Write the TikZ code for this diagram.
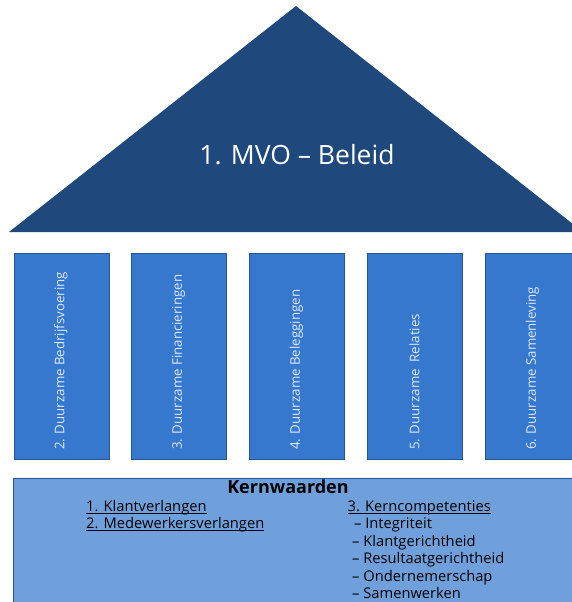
\documentclass[tikz,border=0pt]{standalone}
\usepackage{fontspec}
\setmainfont{Open Sans}
\newcommand\myul[1]{\setbox0\hbox{#1}\rlap{\rule[-2.2pt]{\wd0}{0.7pt}}\box0}
\definecolor{roofblue}{RGB}{31,73,125}
\definecolor{pillarblue}{RGB}{54,120,205}
\definecolor{pillarline}{RGB}{40,85,150}
\definecolor{basefill}{RGB}{112,160,220}
\definecolor{pillartext}{RGB}{222,232,246}
\begin{document}
\begin{tikzpicture}[x=1pt,y=-1pt,
  pillar/.style={draw=pillarline,line width=0.8pt,fill=pillarblue,minimum width=95pt,minimum height=206pt,anchor=north west,inner sep=0pt},
  pillartxt/.style={rotate=90,anchor=west,text=pillartext,font=\fontsize{13.3}{16}\selectfont,inner sep=0pt},
  basetxt/.style={anchor=base west,font=\fontsize{14.7}{17}\selectfont,inner sep=0pt}]
\useasboundingbox (0,0) rectangle (572,602);
\clip (0,0) rectangle (572,602);
% roof
\fill[roofblue] (296,6) -- (583,232) -- (9,232) -- cycle;
\node[text=white,font=\fontsize{26.5}{32}\selectfont] (roof) at (297,155) {1. MVO – Beleid};
% pillars
\node[pillar] (p1) at (13.5,252.5) {};
\node[pillar] (p2) at (131,252.5) {};
\node[pillar] (p3) at (249,252.5) {};
\node[pillar] (p4) at (367,252.5) {};
\node[pillar] (p5) at (485,252.5) {};
\node[pillartxt] (t1) at (61,450) {2. Duurzame Bedrijfsvoering};
\node[pillartxt] (t2) at (178.5,450) {3. Duurzame Financieringen};
\node[pillartxt] (t3) at (296.5,450) {4. Duurzame Beleggingen};
\node[pillartxt] (t4) at (414.5,450) {5. Duurzame\ \ Relaties};
\node[pillartxt] (t5) at (532.5,450) {6. Duurzame Samenleving};
% base
\draw[draw=pillarline,line width=0.8pt,fill=basefill] (13.5,478.5) rectangle (600,640);
\node[anchor=base,font=\bfseries\fontsize{18}{21}\selectfont,inner sep=0pt] (kw) at (288,493.5) {Kernwaarden};
\node[basetxt] (k1) at (86,511) {\myul{1. Klantverlangen}};
\node[basetxt] (k2) at (86,528.5) {\myul{2. Medewerkersverlangen}};
\node[basetxt] (k3) at (347.5,511) {\myul{3. Kerncompetenties}};
\node[basetxt] (k4) at (354,528.5) {– Integriteit};
\node[basetxt] (k5) at (352,546) {– Klantgerichtheid};
\node[basetxt] (k6) at (352,563.5) {– Resultaatgerichtheid};
\node[basetxt] (k7) at (352,581) {– Ondernemerschap};
\node[basetxt] (k8) at (352,598.5) {– Samenwerken};
\end{tikzpicture}
\end{document}
